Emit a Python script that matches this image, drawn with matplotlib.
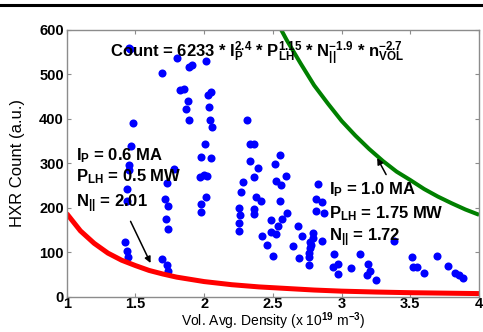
import matplotlib
matplotlib.use("Agg")
import matplotlib.pyplot as plt
from matplotlib.lines import Line2D

plt.rcParams['font.family'] = ['Liberation Sans', 'DejaVu Sans']
plt.rcParams['font.weight'] = 'bold'
plt.rcParams['mathtext.fontset'] = 'custom'
plt.rcParams['mathtext.rm'] = 'Liberation Sans:bold'
plt.rcParams['mathtext.bf'] = 'Liberation Sans:bold'
plt.rcParams['mathtext.it'] = 'Liberation Sans:bold'
plt.rcParams['mathtext.default'] = 'bf'

# measured shots: volume averaged density vs HXR count
density = [1.45, 1.46, 1.80, 1.69, 1.89, 1.91, 2.01, 1.825, 1.855, 1.88,
           1.87, 1.89, 2.03, 2.048, 2.036, 2.043, 2.055, 1.485, 2.007, 1.98,
           2.05, 1.468, 1.453, 1.453, 1.78, 1.44, 1.44, 1.425, 1.437, 1.448,
           1.728, 1.715, 1.74, 1.72, 1.74, 1.69, 1.732, 1.74, 1.97, 2.00,
           2.02, 2.014, 1.977, 1.98, 2.31, 2.33, 2.36, 2.33, 2.39, 2.36,
           2.28, 2.27, 2.38, 2.41, 2.254, 2.366, 2.366, 2.26, 2.255, 2.25,
           2.42, 2.46, 2.50, 2.55, 2.516, 2.596, 2.52, 2.56, 2.55, 2.60,
           2.565, 2.487, 2.535, 2.487, 2.523, 2.68, 2.71, 2.645, 2.69, 2.79,
           2.795, 2.77, 2.78, 2.77, 2.765, 2.764, 2.764, 2.856, 2.83, 2.81,
           2.86, 2.81, 2.875, 2.945, 2.94, 2.97, 2.97, 3.067, 3.13, 3.195,
           3.207, 3.188, 3.25, 3.384, 3.51, 3.52, 3.55, 3.60, 3.69, 3.77,
           3.826, 3.85, 3.88]
hxr = [560, 557, 536, 503, 517, 521, 530, 465, 467, 439,
       422, 398, 454, 461, 427, 396, 382, 391, 343, 315,
       312, 339, 296, 285, 288, 242, 214, 122, 103, 90,
       255, 220, 204, 174, 152, 84, 71, 58, 269, 274,
       272, 224, 209, 191, 397, 343, 343, 305, 290, 270,
       257, 236, 225, 214, 200, 197, 186, 184, 165, 148,
       137, 116, 92, 319, 298, 272, 260, 251, 215, 188,
       175, 172, 160, 146, 140, 160, 137, 114, 88, 143,
       131, 124, 116, 109, 99, 90, 71, 126, 253, 220,
       212, 193, 189, 97, 67, 74, 51, 64, 95, 73,
       58, 49, 38, 125, 89, 67, 67, 53, 92, 69,
       54, 48, 41]

# scaling-law curve, Ip = 0.6 MA case
low_n = [1.0, 1.1, 1.2, 1.3, 1.4, 1.5, 1.6, 1.7, 1.8, 1.9, 2.0,
         2.2, 2.4, 2.6, 2.8, 3.0, 3.25, 3.5, 3.75, 4.0]
low_count = [187, 148, 120, 98, 82, 70, 59, 51, 44, 39, 34,
             27, 22, 18.5, 15, 12.5, 10.5, 9, 8, 7]

# scaling-law curve, Ip = 1.0 MA case
high_n = [2.56, 2.6, 2.7, 2.8, 2.9, 3.0, 3.1, 3.2, 3.3, 3.4,
          3.5, 3.6, 3.7, 3.8, 3.9, 4.0]
high_count = [600, 577, 525, 475, 434, 395, 362, 332, 305, 281,
              262, 242, 225, 210, 196, 184]

fig = plt.figure(figsize=(4.83, 3.32), dpi=100)
ax = fig.add_axes([0.138, 0.1063, 0.854, 0.8042])

ax.plot(density, hxr, 'o', color='#0000ff', markersize=5.8, markeredgewidth=0)
ax.plot(low_n, low_count, color='#ff0000', linewidth=3.6, solid_capstyle='butt')
ax.plot(high_n, high_count, color='#008000', linewidth=2.9, solid_capstyle='butt')

ax.set_xlim(1, 4)
ax.set_ylim(0, 600)
ax.set_xticks([1, 1.5, 2, 2.5, 3, 3.5, 4])
ax.set_xticklabels(['1', '1.5', '2', '2.5', '3', '3.5', '4'])
ax.set_yticks([0, 100, 200, 300, 400, 500, 600])

for s in ax.spines.values():
    s.set_color('#8c8c8c')
    s.set_linewidth(1.0)
ax.tick_params(direction='in', length=3, width=0.8, color='#8c8c8c',
               top=True, right=True, labelsize=10.5, pad=2)
ax.tick_params(axis='x', labelsize=10.5, pad=0.5)

ax.set_xlabel(r'Vol. Avg. Density (x 10$^{19}$ m$^{-3}$)', fontsize=10,
              va='bottom')
ax.xaxis.set_label_coords(0.5, -0.1322)
ax.set_ylabel('HXR Count (a.u.)', fontsize=12)
ax.yaxis.set_label_coords(-0.1, 0.5)

tsize = 12
ax.text(1.315, 537, r'Count = 6233 * I$_P^{2.4}$ * P$_{LH}^{1.15}$ * '
        r'N$_{||}^{-1.9}$ * n$_{VOL}^{-2.7}$', fontsize=12, va='baseline')

ax.text(1.068, 307, r'I$_P$ = 0.6 MA', fontsize=tsize, va='baseline')
ax.text(1.068, 259, r'P$_{LH}$ = 0.5 MW', fontsize=tsize, va='baseline')
ax.text(1.068, 202, r'N$_{||}$ = 2.01', fontsize=tsize, va='baseline')

ax.text(2.91, 230, r'I$_P$ = 1.0 MA', fontsize=tsize, va='baseline')
ax.text(2.91, 176, r'P$_{LH}$ = 1.75 MW', fontsize=tsize, va='baseline')
ax.text(2.91, 124, r'N$_{||}$ = 1.72', fontsize=tsize, va='baseline')

arrow = dict(arrowstyle='-|>', color='black', lw=1.1, mutation_scale=9)
ax.annotate('', xy=(1.619, 70), xytext=(1.456, 175), arrowprops=arrow)
ax.annotate('', xy=(3.249, 317), xytext=(3.333, 269), arrowprops=arrow)

# rule across the top of the page
fig.add_artist(Line2D([0, 1], [0.985, 0.985], color='black', linewidth=2.2,
                      transform=fig.transFigure))

fig.savefig('out.png', dpi=100)
